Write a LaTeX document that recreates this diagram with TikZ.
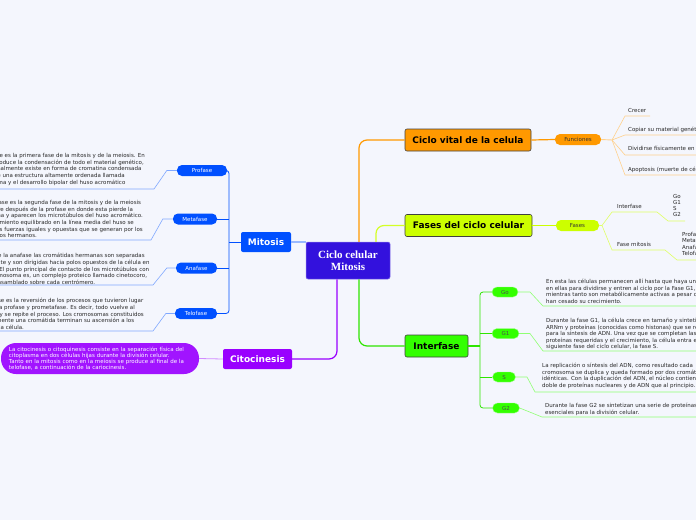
\documentclass[tikz,border=0pt]{standalone}
\usepackage{fontspec}
\setmainfont{DejaVu Sans}
\newfontfamily\serifb{Liberation Serif}
\usetikzlibrary{calc}
\definecolor{bg}{RGB}{244,246,253}
\definecolor{corange}{RGB}{255,153,0}
\definecolor{cyel}{RGB}{204,255,0}
\definecolor{cgreen}{RGB}{51,255,0}
\definecolor{cblue}{RGB}{0,80,255}
\definecolor{cpurple}{RGB}{153,0,255}
\definecolor{ccentral}{RGB}{51,17,221}
\definecolor{txt}{RGB}{40,40,40}
\begin{document}
\begin{tikzpicture}[x=1pt,y=-1pt,
 mainbox/.style={draw=black!75, line width=0.6pt, rounded corners=2pt, minimum height=22pt, inner sep=0pt, text=black, font=\fontsize{9}{10}\selectfont\bfseries},
 topbox/.style={rounded corners=2pt, minimum height=20pt, inner sep=0pt, text=white, font=\fontsize{9}{10}\selectfont\bfseries},
 pill/.style={rounded corners=5pt, minimum height=11pt, inner sep=0pt, font=\fontsize{5.5}{6.5}\selectfont},
 bpill/.style={pill, fill=cblue, text=white},
 gpill/.style={pill, minimum height=10pt, fill=cgreen, draw=cgreen!50!white, line width=0.4pt, text=black!70},
 desc/.style={anchor=north west, inner sep=0pt, align=left, text=txt, font=\fontsize{5.5}{6.6}\selectfont},
 itemtxt/.style={anchor=base west, inner sep=0pt, text=txt, font=\fontsize{5.5}{6.5}\selectfont},
 conn/.style={line width=1.2pt, rounded corners=8pt},
 bthin/.style={line width=0.8pt},
 ulb/.style={line width=0.6pt, color=cblue!50!white},
 ulo/.style={line width=0.6pt, color=corange!45!white},
 uly/.style={line width=0.6pt, color=cyel!60!white},
 ulg/.style={line width=0.6pt, color=cgreen!55!white},
]
\fill[bg] (0,0) rectangle (696,520);
\useasboundingbox (0,0) rectangle (696,520);
\clip (0,0) rectangle (696,520);

% ---- main nodes
\node[fill=ccentral, draw=ccentral!60!white, line width=0.5pt, rounded corners=2pt, minimum width=84pt, minimum height=37pt, inner sep=0pt, text=white, align=center, font=\serifb\fontsize{11}{11.7}\selectfont\bfseries] (c) at (348,260.5) {Ciclo celular\\Mitosis};
\node[mainbox, fill=corange, minimum width=126pt] (cv) at (468,140) {Ciclo vital de la celula};
\node[mainbox, fill=cyel, minimum width=127pt] (fc) at (468.5,225.5) {Fases del ciclo celular};
\node[mainbox, fill=cgreen, minimum width=63pt] (inter) at (436.5,346) {Interfase};
\node[topbox, fill=cblue, minimum width=50pt] (mit) at (266,242) {Mitosis};
\node[topbox, fill=cpurple, minimum width=69pt] (cito) at (257.5,359) {Citocinesis};

% ---- central connectors
\draw[conn, corange] ([xshift=11pt]c.north) |- (cv.west);
\draw[conn, cyel!85!white] ([xshift=28pt]c.north) |- (fc.west);
\draw[conn, cgreen!90!black] ([xshift=11pt]c.south) |- (inter.west);
\draw[conn, cpurple] ([xshift=-11pt]c.south) |- (cito.east);
\draw[conn, cblue!40!white] (mit.east) -- (mit.east -| c.west);

% ---- Mitosis branch
\node[bpill, minimum width=50pt] (prof) at (202,170.5) {Profase};
\node[bpill, minimum width=44pt] (meta) at (195,219) {Metafase};
\node[bpill, minimum width=41pt] (ana) at (196.5,268) {Anafase};
\node[bpill, minimum width=42pt] (telo) at (196,313.5) {Telofase};
\coordinate (mb) at (229,242);
\draw[bthin, cblue, rounded corners=3pt] (prof.east) -| (mb) |- (telo.east);
\draw[bthin, cblue] (mit.west) -- (mb);
\draw[bthin, cblue] (meta.east) -- (meta.east -| mb);
\draw[bthin, cblue] (ana.east) -- (ana.east -| mb);

\coordinate (pe) at (-3,189);
\coordinate (me) at (-3,240);
\coordinate (ae) at (-3,285);
\coordinate (te) at (-3,331);
\draw[ulb] (prof.west) -- ++(-10,0) -- (154,189) -- (pe);
\draw[ulb] (meta.west) -- ++(-10,0) -- (151,240) -- (me);
\draw[ulb] (ana.west) -- ++(-9,0) -- (153,285) -- (ae);
\draw[ulb] (telo.west) -- ++(-9,0) -- (153,331) -- (te);

\node[desc] (ptx) at (-26,153.3) {La profase es la primera fase de la mitosis y de la meiosis. En\\
ella se produce la condensación de todo el material genético,\\
que normalmente existe en forma de cromatina condensada\\
dentro de una estructura altamente ordenada llamada\\
cromosoma y el desarrollo bipolar del huso acromático};
\node[desc] (mtx) at (-26,200.3) {La metafase es la segunda fase de la mitosis y de la meiosis\\
que ocurre después de la profase en donde esta pierde la\\
membrana y aparecen los microtúbulos del huso acromático.\\
Su alineamiento equilibrado en la línea media del huso se\\
debe a las fuerzas iguales y opuestas que se generan por los\\
cinetocoros hermanos.};
\node[desc] (atx) at (-26,253.3) {Dentro de la anafase las cromátidas hermanas son separadas\\
físicamente y son dirigidas hacia polos opuestos de la célula en\\
división. El punto principal de contacto de los microtúbulos con\\
cada cromosoma es, un complejo proteico llamado cinetocoro,\\
que es ensamblado sobre cada centrómero.};
\node[desc] (ttx) at (-26,298.3) {La telofase es la reversión de los procesos que tuvieron lugar\\
durante la profase y prometafase. Es decir, todo vuelve al\\
principio y se repite el proceso. Los cromosomas constituidos\\
por solamente una cromátida terminan su ascensión a los\\
polos de la célula.};

% ---- Citocinesis
\node[fill=cpurple!92!white, rounded corners=15pt, minimum width=198pt, minimum height=31pt, inner xsep=8pt, inner ysep=0pt, text width=182pt, align=left, text=white, font=\fontsize{5.5}{6.2}\selectfont] (citod) at (100,358.5) {La citocinesis o citoquinesis consiste en la separación física del\\
citoplasma en dos células hijas durante la división celular.\\
Tanto en la mitosis como en la meiosis se produce al final de la\\
telofase, a continuación de la cariocinesis.};
\draw[line width=0.8pt, cpurple!45!white] (cito.west) -- (citod.east);

% ---- Ciclo vital branch
\node[pill, fill=corange, minimum width=46pt, text=black!80] (fun) at (578,139.5) {Funciones};
\draw[line width=1.2pt, corange] (cv.east) -- (fun.west);
\coordinate (fs) at (612,140);
\coordinate (e1) at (650,116);
\coordinate (e2) at (700,135);
\coordinate (e3) at (700,155);
\coordinate (e4) at (700,175);
\draw[ulo, line width=0.9pt] (fun.east) -- (fs);
\draw[ulo] (fs) -- (625,116) -- (e1);
\draw[ulo] (fs) -- (625,135) -- (e2);
\draw[ulo] (fs) -- (625,155) -- (e3);
\draw[ulo] (fs) -- (625,175) -- (e4);
\node[itemtxt] (f1) at (628,112) {Crecer};
\node[itemtxt] (f2) at (628,131) {Copiar su material genético};
\node[itemtxt] (f3) at (628,150.5) {Dividirse físicamente en dos células hijas};
\node[itemtxt] (f4) at (628,171) {Apoptosis (muerte de células)};

% ---- Fases branch
\node[pill, fill=cyel, minimum width=43pt, text=black!80] (fp) at (577.5,225.5) {Fases};
\draw[line width=1.2pt, cyel] (fc.east) -- (fp.west);
\coordinate (fs2) at (602,225.5);
\coordinate (ie) at (685,221);
\coordinate (fme) at (700,260);
\draw[uly, line width=0.9pt] (fp.east) -- (fs2);
\draw[uly] (fs2) -- (612,212) -- (657,212) -- (668,221) -- (ie);
\draw[uly] (fs2) -- (612,250) -- (665,250) -- (677,260) -- (fme);
\node[itemtxt] (il) at (617,208) {Interfase};
\node[itemtxt] (ml) at (617,246) {Fase mitosis};
\node[desc, font=\fontsize{5.5}{6.2}\selectfont] (il2) at (673,193.8) {Go\\G1\\S\\G2};
\node[desc, font=\fontsize{5.5}{6.5}\selectfont] (ml2) at (682,232) {Profase\\Metafase\\Anafase\\Telofase};

% ---- Interfase branch
\node[gpill, minimum width=26pt] (go) at (505,292) {Go};
\node[gpill, minimum width=27pt] (g1) at (505.5,333.5) {G1};
\node[gpill, minimum width=23pt] (s) at (504,377) {S};
\node[gpill, minimum width=27pt] (g2) at (506,408) {G2};
\coordinate (ib) at (480,346);
\draw[line width=1.2pt, cgreen!90!black] (inter.east) -- (ib);
\draw[bthin, cgreen!90!black, rounded corners=3pt] (go.west) -| (ib) |- (g2.west);
\draw[bthin, cgreen!90!black] (g1.west) -- (g1.west -| ib);
\draw[bthin, cgreen!90!black] (s.west) -- (s.west -| ib);

\coordinate (goe) at (700,306);
\coordinate (g1e) at (700,351);
\coordinate (se) at (700,392);
\coordinate (g2e) at (700,417);
\draw[ulg] (go.east) -- (530,292) -- (543,306) -- (goe);
\draw[ulg] (g1.east) -- (530,333.5) -- (543,351) -- (g1e);
\draw[ulg] (s.east) -- (527,377) -- (535,392) -- (se);
\draw[ulg] (g2.east) -- (542,417) -- (g2e);

\node[desc] (gotx) at (546,278.8) {En esta las células permanecen allí hasta que haya un estímulo\\
en ellas para dividirse y entren al ciclo por la Fase G1,\\
mientras tanto son metabólicamente activas a pesar de que\\
han cesado su crecimiento.};
\node[desc] (g1tx) at (546,317.8) {Durante la fase G1, la célula crece en tamaño y sintetiza\\
ARNm y proteínas (conocidas como histonas) que se requieren\\
para la síntesis de ADN. Una vez que se completan las\\
proteínas requeridas y el crecimiento, la célula entra en la\\
siguiente fase del ciclo celular, la fase S.};
\node[desc] (stx) at (542,362.8) {La replicación o síntesis del ADN, como resultado cada\\
cromosoma se duplica y queda formado por dos cromátidas\\
idénticas. Con la duplicación del ADN, el núcleo contiene el\\
doble de proteínas nucleares y de ADN que al principio.};
\node[desc] (g2tx) at (545,402.8) {Durante la fase G2 se sintetizan una serie de proteínas\\
esenciales para la división celular.};
\end{tikzpicture}
\end{document}
